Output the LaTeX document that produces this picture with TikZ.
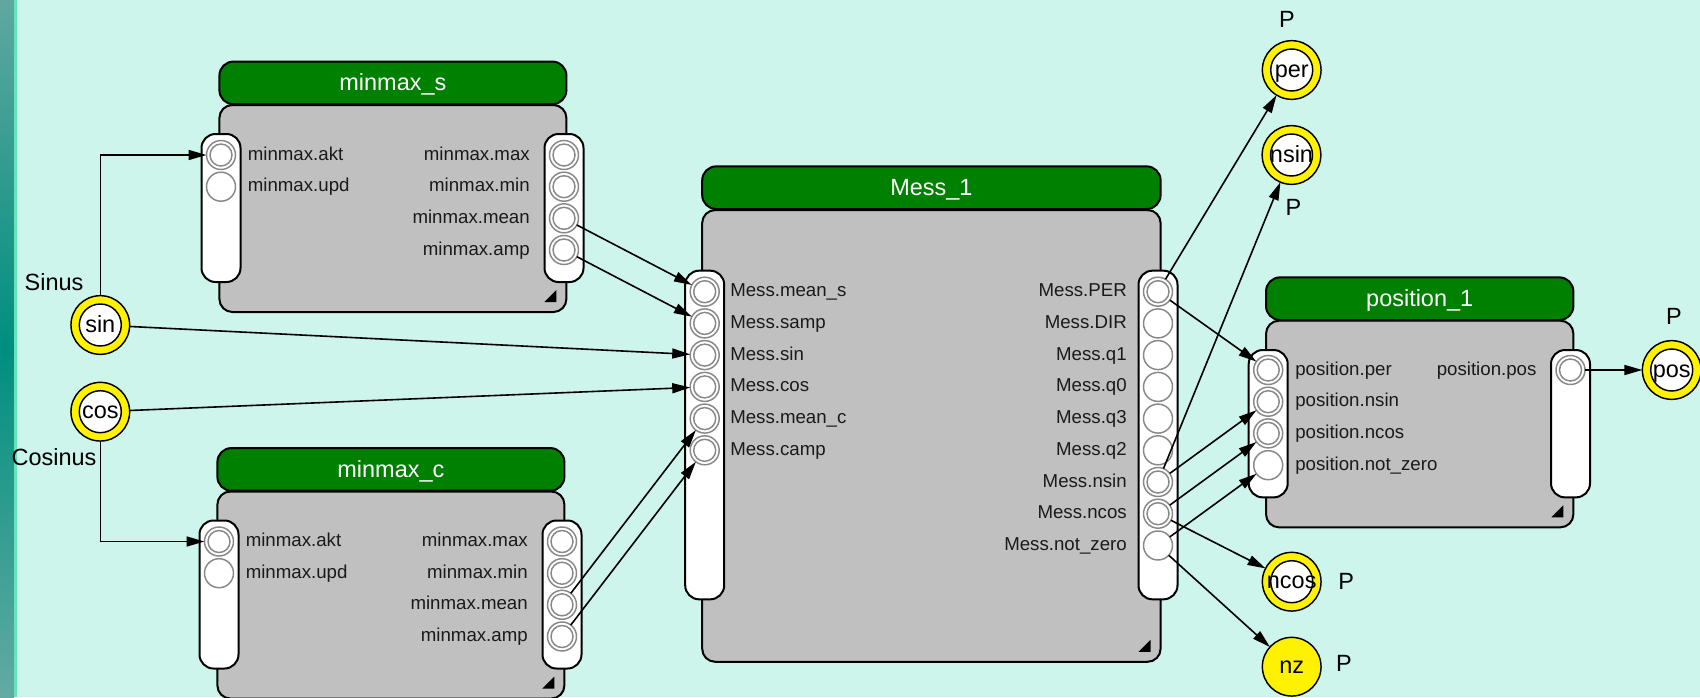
\documentclass[tikz,border=0pt]{standalone}
\usepackage{fontspec}
\setmainfont{Liberation Sans}
\usetikzlibrary{arrows.meta}
\definecolor{bg}{HTML}{CDF5EC}
\definecolor{hdrgreen}{HTML}{008000}
\definecolor{bodygray}{HTML}{C0C0C0}
\definecolor{portgray}{HTML}{888888}
\definecolor{stripmid}{HTML}{008F7D}
\definecolor{striptop}{HTML}{5FA8A0}
\definecolor{stripbot}{HTML}{62ABA3}
\definecolor{mint}{HTML}{66E3BE}
\definecolor{txt}{HTML}{1A1A1A}
\newcommand{\lblfont}{\fontsize{14}{16}\selectfont}
\newcommand{\ttlfont}{\fontsize{17.6}{20}\selectfont}
\tikzset{
  hdr/.style={draw=black, line width=1.5pt, fill=hdrgreen, rounded corners=10.5pt, text=white, font=\ttlfont, inner sep=0pt, outer sep=0pt, minimum height=32pt, text height=12pt, text depth=0pt},
  blockbody/.style={draw=black, line width=1.5pt, fill=bodygray, rounded corners=9.75pt, inner sep=0pt, outer sep=0pt},
  portbar/.style={draw=black, line width=1.5pt, fill=white, rounded corners=10.5pt, inner sep=0pt, outer sep=0pt, minimum width=29.25pt},
  sport/.style={circle, draw=portgray, line width=1.1pt, fill=white, minimum size=21.75pt, inner sep=0pt, outer sep=0pt},
  dport/.style={sport, path picture={\draw[portgray, line width=1.1pt] (path picture bounding box.center) circle[radius=8.25pt];}},
  lbl/.style={font=\lblfont, text=txt, inner sep=0pt},
  bnd/.style={circle, draw=black, line width=1.1pt, fill=yellow, minimum size=44pt, inner sep=0pt, outer sep=0pt, font=\ttlfont, text=black, text height=10.9pt, text depth=0pt},
  bndw/.style={bnd, path picture={\draw[black, line width=1.1pt, fill=white] (path picture bounding box.center) circle[radius=15.75pt];}},
  plbl/.style={font=\ttlfont, text=black, inner sep=0pt, anchor=base},
  conn/.style={draw=black, line width=1.2pt, -{Triangle[length=13.5pt,width=7.5pt]}},
  grip/.style={fill=black},
}
\begin{document}
\begin{tikzpicture}[x=0.75pt, y=-0.75pt]
\useasboundingbox (0,0) rectangle (1700,697);
\clip (0,0) rectangle (1700,697);
\fill[bg] (0,0) rectangle (1700,697);
\shade[top color=striptop, bottom color=stripbot, middle color=stripmid] (0,0) rectangle (14,697);
\fill[mint] (14,0) rectangle (16.5,697);

% ---------- minmax_s ----------
\node[blockbody, minimum width=260.25pt, minimum height=155.25pt] (ms-body) at (392.9,208.5) {};
\node[hdr, minimum width=260.25pt] (ms-hdr) at (392.9,82.9) {minmax\_s};
\node[portbar, minimum height=111pt] (ms-in) at (221,208) {};
\node[portbar, minimum height=111pt] (ms-out) at (564,208) {};
\fill[grip] ([shift={(-10,-10)}]ms-body.south east) -- ++(0,-12) -- ++(-12,12) -- cycle;
\foreach \nm/\st/\yy/\tx in {akt/dport/155/minmax.akt, upd/sport/186.7/minmax.upd}{
  \node[\st] (ms-\nm) at (221,\yy) {};
  \node[lbl, anchor=base west] (ms-\nm-l) at (247.6,\yy+5) {\tx};
}
\foreach \nm/\st/\yy/\tx in {max/dport/155/minmax.max, min/dport/186.7/minmax.min, mean/dport/218.3/minmax.mean, amp/dport/250/minmax.amp}{
  \node[\st] (ms-\nm) at (564,\yy) {};
  \node[lbl, anchor=base east] (ms-\nm-l) at (530,\yy+5) {\tx};
}

% ---------- minmax_c ----------
\node[blockbody, minimum width=260.25pt, minimum height=155.25pt] (mc-body) at (390.9,595) {};
\node[hdr, minimum width=260.25pt] (mc-hdr) at (390.9,469.4) {minmax\_c};
\node[portbar, minimum height=111pt] (mc-in) at (219,594.5) {};
\node[portbar, minimum height=111pt] (mc-out) at (562,594.5) {};
\fill[grip] ([shift={(-10,-10)}]mc-body.south east) -- ++(0,-12) -- ++(-12,12) -- cycle;
\foreach \nm/\st/\yy/\tx in {akt/dport/541.5/minmax.akt, upd/sport/573.2/minmax.upd}{
  \node[\st] (mc-\nm) at (219,\yy) {};
  \node[lbl, anchor=base west] (mc-\nm-l) at (245.5,\yy+5) {\tx};
}
\foreach \nm/\st/\yy/\tx in {max/dport/541.5/minmax.max, min/dport/573.2/minmax.min, mean/dport/604.8/minmax.mean, amp/dport/636.5/minmax.amp}{
  \node[\st] (mc-\nm) at (562,\yy) {};
  \node[lbl, anchor=base east] (mc-\nm-l) at (528,\yy+5) {\tx};
}

% ---------- Mess_1 ----------
\node[blockbody, minimum width=343.8pt, minimum height=338.8pt] (m-body) at (931.4,435.9) {};
\node[hdr, minimum width=343.8pt] (m-hdr) at (931.4,187.7) {Mess\_1};
\node[portbar, minimum height=246.5pt] (m-in) at (704.7,435) {};
\node[portbar, minimum height=246.5pt] (m-out) at (1158,435) {};
\fill[grip] ([shift={(-10,-10)}]m-body.south east) -- ++(0,-12) -- ++(-12,12) -- cycle;
\foreach \nm/\st/\yy/\tx in {means/dport/291.7/Mess.mean\_s, samp/dport/323.4/Mess.samp, sin/dport/355.1/Mess.sin, cos/dport/386.9/Mess.cos, meanc/dport/418.6/Mess.mean\_c, camp/dport/450.3/Mess.camp}{
  \node[\st] (m-\nm) at (704.7,\yy) {};
  \node[lbl, anchor=base west] (m-\nm-l) at (730,\yy+5) {\tx};
}
\foreach \nm/\st/\yy/\tx in {per/dport/291.7/Mess.PER, dir/sport/323.4/Mess.DIR, q1/sport/355.1/Mess.q1, q0/sport/386.9/Mess.q0, q3/sport/418.6/Mess.q3, q2/sport/450.3/Mess.q2, nsin/dport/482/Mess.nsin, ncos/dport/513.7/Mess.ncos, nz/sport/545.5/Mess.not\_zero}{
  \node[\st] (m-\nm) at (1158,\yy) {};
  \node[lbl, anchor=base east] (m-\nm-l) at (1127,\yy+5) {\tx};
}

% ---------- position_1 ----------
\node[blockbody, minimum width=230.5pt, minimum height=155pt] (p-body) at (1419.7,424) {};
\node[hdr, minimum width=230.5pt] (p-hdr) at (1419.7,298.7) {position\_1};
\node[portbar, minimum height=110.5pt] (p-in) at (1268.2,423.7) {};
\node[portbar, minimum height=110.5pt] (p-out) at (1570.5,423.7) {};
\fill[grip] ([shift={(-10,-10)}]p-body.south east) -- ++(0,-12) -- ++(-12,12) -- cycle;
\foreach \nm/\st/\yy/\tx in {per/dport/370/position.per, nsin/dport/401.7/position.nsin, ncos/dport/433.4/position.ncos, nz/sport/465.2/position.not\_zero}{
  \node[\st] (p-\nm) at (1268.2,\yy) {};
  \node[lbl, anchor=base west] (p-\nm-l) at (1295,\yy+5) {\tx};
}
\node[dport] (p-pos) at (1570.5,370) {};
\node[lbl, anchor=base east] (p-pos-l) at (1536.7,375) {position.pos};

% ---------- boundary nodes ----------
\node[bndw] (b-sin) at (100.3,325) {sin};
\node[plbl] (b-sin-l) at (54,290) {Sinus};
\node[bndw] (b-cos) at (100.3,411.7) {cos};
\node[plbl] (b-cos-l) at (54,465) {Cosinus};
\node[bndw] (b-per) at (1291.7,70) {per};
\node[plbl] (b-per-l) at (1287,27.3) {P};
\node[bndw] (b-nsin) at (1291.5,155) {nsin};
\node[plbl] (b-nsin-l) at (1293.4,215.7) {P};
\node[bndw] (b-ncos) at (1291.7,581.7) {ncos};
\node[plbl] (b-ncos-l) at (1346.3,589.3) {P};
\node[bnd] (b-nz) at (1291.7,666.7) {nz};
\node[plbl] (b-nz-l) at (1344,671.7) {P};
\node[bndw] (b-pos) at (1671.7,370) {pos};
\node[plbl] (b-pos-l) at (1674,324) {P};

% ---------- connectors ----------
\draw[conn] (b-sin) |- (ms-akt);
\draw[conn] (b-cos) |- (mc-akt);
\draw[conn] (ms-mean) -- (m-means);
\draw[conn] (ms-amp) -- (m-samp);
\draw[conn] (b-sin) -- (m-sin);
\draw[conn] (b-cos) -- (m-cos);
\draw[conn] (mc-mean) -- (m-meanc);
\draw[conn] (mc-amp) -- (m-camp);
\draw[conn] (m-per) -- (b-per);
\draw[conn] (m-per) -- (p-per);
\draw[conn] (m-nsin) -- (b-nsin);
\draw[conn] (m-nsin) -- (p-nsin);
\draw[conn] (m-ncos) -- (p-ncos);
\draw[conn] (m-ncos) -- (b-ncos);
\draw[conn] (m-nz) -- (p-nz);
\draw[conn] (m-nz) -- (b-nz);
\draw[conn] (p-pos) -- (b-pos);
\end{tikzpicture}
\end{document}
